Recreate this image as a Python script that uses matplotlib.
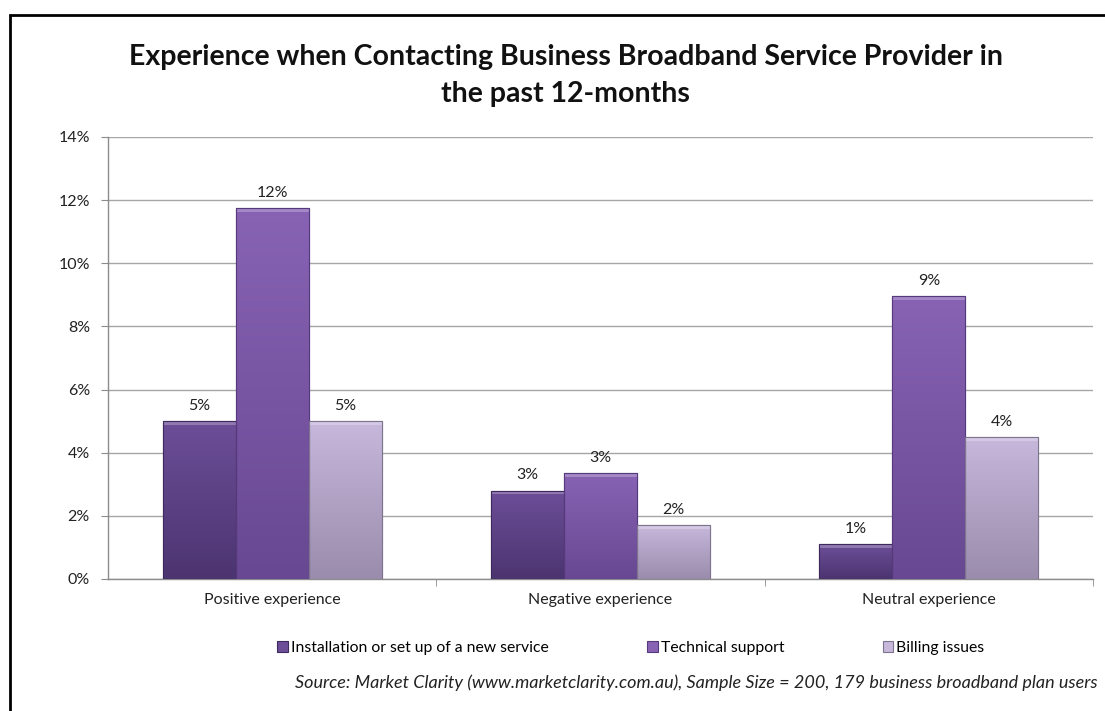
import numpy as np
import matplotlib
matplotlib.use("Agg")
import matplotlib.pyplot as plt
from matplotlib.patches import Rectangle
from matplotlib.colors import LinearSegmentedColormap

plt.rcParams['font.family'] = ['Lato', 'DejaVu Sans']

# Data
categories = ["Positive experience", "Negative experience", "Neutral experience"]
series_names = ["Installation or set up of a new service", "Technical support", "Billing issues"]
installation = [5.0, 2.8, 1.1]
technical = [11.75, 3.35, 8.95]
billing = [5.0, 1.7, 4.5]
labels_installation = ["5%", "3%", "1%"]
labels_technical = ["12%", "3%", "9%"]
labels_billing = ["5%", "2%", "4%"]

series_values = [installation, technical, billing]
series_labels = [labels_installation, labels_technical, labels_billing]
# (top colour, bottom colour, edge colour) for each series
series_colors = [("#6c4e98", "#4c3470", "#3e2a5c"),
                 ("#8863b4", "#684892", "#56397c"),
                 ("#c7b8dc", "#9a8cac", "#7f7490")]

fig = plt.figure(figsize=(11.05, 7.11), dpi=100)
ax = fig.add_axes([108 / 1105, 1 - 579 / 711, (1093 - 108) / 1105, (579 - 137) / 711])

x = np.arange(len(categories))
width = 0.222
offsets = [-width, 0, width]

handles = []
for vals, labs, off, (ctop, cbot, cedge), name in zip(series_values, series_labels, offsets,
                                                      series_colors, series_names):
    bars = ax.bar(x + off, vals, width, color=ctop, edgecolor=cedge, linewidth=0.8,
                  label=name, zorder=3)
    handles.append(bars)
    cmap = LinearSegmentedColormap.from_list("g", [cbot, ctop])
    grad = np.linspace(0, 1, 256).reshape(-1, 1)
    for b, lab in zip(bars, labs):
        x0, w, h = b.get_x(), b.get_width(), b.get_height()
        im = ax.imshow(grad, cmap=cmap, origin="lower", aspect="auto",
                       extent=(x0, x0 + w, 0, h), zorder=3.1)
        im.set_clip_path(b)
        # bevel highlight along the top edge
        bev = min(0.12, h * 0.15)
        ax.add_patch(Rectangle((x0, h - bev), w, bev, facecolor="white", alpha=0.25,
                               edgecolor="none", zorder=3.2))
        ax.add_patch(Rectangle((x0, 0), w, h, facecolor="none", edgecolor=cedge,
                               linewidth=0.8, zorder=3.3))
        ax.annotate(lab, (x0 + w / 2, h), xytext=(0, 6), textcoords="offset points",
                    ha="center", va="bottom", fontsize=11.5, color="#222222")

ax.set_xlim(-0.5, 2.5)
ax.set_ylim(0, 14)
ax.set_yticks(np.arange(0, 15, 2))
ax.set_yticklabels([f"{v}%" for v in range(0, 15, 2)], fontsize=11.5)
ax.yaxis.grid(True, color="#a6a6a6", linewidth=1.0, zorder=0)
ax.set_axisbelow(True)
ax.tick_params(axis="y", length=5, color="#8c8c8c", pad=8, labelcolor="#222222")

ax.set_xticks(x)
ax.set_xticklabels(categories, fontsize=11.5, color="#222222")
ax.tick_params(axis="x", length=0, pad=10)
# boundary ticks between categories
ax.set_xticks([0.5, 1.5, 2.5], minor=True)
ax.tick_params(axis="x", which="minor", length=5, color="#8c8c8c")

for side in ["top", "right"]:
    ax.spines[side].set_visible(False)
for side in ["left", "bottom"]:
    ax.spines[side].set_color("#8c8c8c")
    ax.spines[side].set_linewidth(1.0)

fig.text(0.512, 1 - 57 / 711, "Experience when Contacting Business Broadband Service Provider in",
         ha="center", va="center", fontsize=20.5, fontweight="bold", color="#111111")
fig.text(0.512, 1 - 94 / 711, "the past 12-months",
         ha="center", va="center", fontsize=20.5, fontweight="bold", color="#111111")

leg = fig.legend(handles=handles, loc="center", bbox_to_anchor=(0.571, 1 - 648 / 711),
                 ncol=3, frameon=False, fontsize=11.3, handlelength=0.65, handleheight=0.65,
                 handletextpad=0.2, columnspacing=6.3)

fig.text(1098 / 1105, 1 - 683 / 711,
         "Source: Market Clarity (www.marketclarity.com.au), Sample Size = 200, 179 business broadband plan users",
         ha="right", va="center", fontsize=13, style="italic", color="#222222")

# outer frame around the chart
fig.patches.append(Rectangle((10 / 1105, -0.05), 1.2, 1 - 15 / 711 + 0.05,
                             transform=fig.transFigure, fill=False, edgecolor="black",
                             linewidth=2, figure=fig))

fig.savefig("out.png", dpi=100)
